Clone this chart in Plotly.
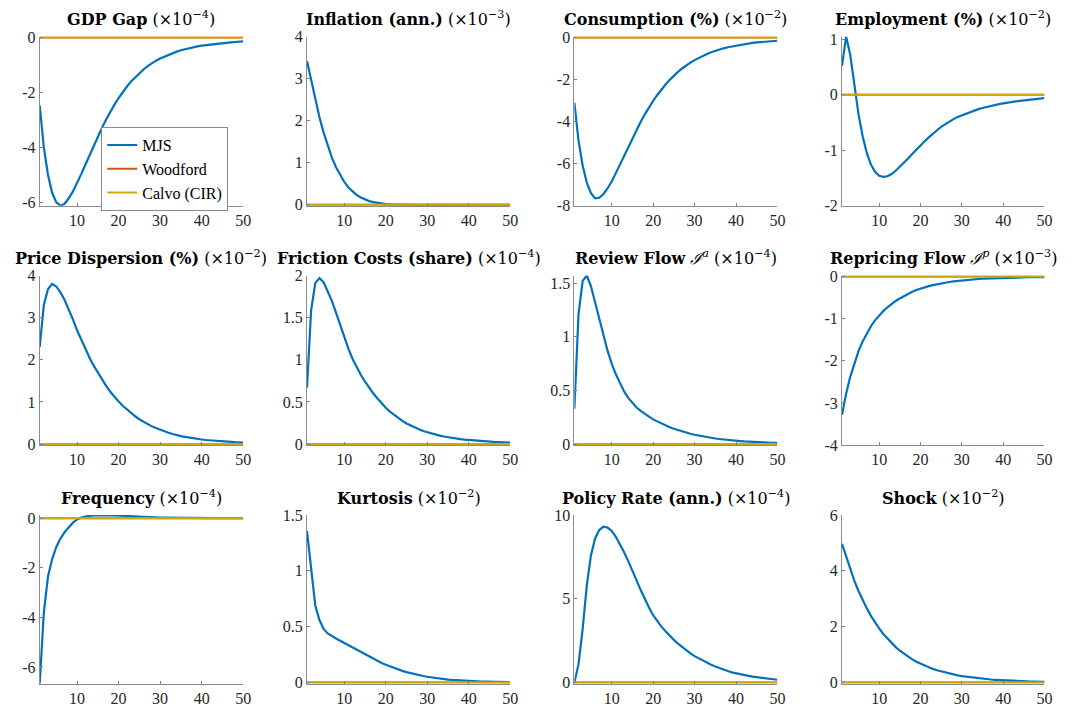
import plotly.graph_objects as go

periods = list(range(1, 51))

titles = [
    "<b>GDP Gap</b> (×10<sup>−4</sup>)",
    "<b>Inflation (ann.)</b> (×10<sup>−3</sup>)",
    "<b>Consumption (%)</b> (×10<sup>−2</sup>)",
    "<b>Employment (%)</b> (×10<sup>−2</sup>)",
    "<b>Price Dispersion (%)</b> (×10<sup>−2</sup>)",
    "<b>Friction Costs (share)</b> (×10<sup>−4</sup>)",
    "<b>Review Flow</b> <i>ℐ</i><sup><i>a</i></sup> (×10<sup>−4</sup>)",
    "<b>Repricing Flow</b> <i>ℐ</i><sup><i>p</i></sup> (×10<sup>−3</sup>)",
    "<b>Frequency</b> (×10<sup>−4</sup>)",
    "<b>Kurtosis</b> (×10<sup>−2</sup>)",
    "<b>Policy Rate (ann.)</b> (×10<sup>−4</sup>)",
    "<b>Shock</b> (×10<sup>−2</sup>)",
]

gdp_gap = [-2.47, -4.0, -5.0, -5.65, -6.0, -6.12, -6.05, -5.85, -5.6, -5.3,
           -4.97, -4.63, -4.28, -3.94, -3.6, -3.28, -2.98, -2.7, -2.44, -2.2,
           -1.98, -1.78, -1.6, -1.44, -1.29, -1.16, -1.04, -0.93, -0.84, -0.76,
           -0.69, -0.62, -0.56, -0.51, -0.46, -0.42, -0.38, -0.35, -0.32, -0.29,
           -0.27, -0.25, -0.23, -0.21, -0.19, -0.18, -0.17, -0.16, -0.15, -0.14]
inflation = [3.42, 2.95, 2.5, 2.08, 1.72, 1.4, 1.12, 0.89, 0.7, 0.54,
             0.41, 0.31, 0.23, 0.17, 0.12, 0.085, 0.06, 0.04, 0.025, 0.015,
             0.008, 0.003, 0.0, -0.002, -0.004, -0.005, -0.006, -0.006, -0.006, -0.006,
             -0.006, -0.005, -0.005, -0.005, -0.004, -0.004, -0.004, -0.003, -0.003, -0.003,
             -0.002, -0.002, -0.002, -0.002, -0.001, -0.001, -0.001, -0.001, -0.001, -0.001]
consumption = [-3.1, -4.9, -6.1, -6.9, -7.4, -7.65, -7.62, -7.45, -7.18, -6.85,
               -6.45, -6.03, -5.6, -5.18, -4.77, -4.38, -4.0, -3.65, -3.32, -3.01,
               -2.73, -2.47, -2.23, -2.01, -1.81, -1.63, -1.47, -1.32, -1.19, -1.07,
               -0.96, -0.86, -0.78, -0.7, -0.63, -0.57, -0.51, -0.46, -0.42, -0.38,
               -0.34, -0.31, -0.28, -0.25, -0.23, -0.21, -0.19, -0.17, -0.16, -0.15]
employment = [0.52, 1.047, 0.72, 0.15, -0.35, -0.75, -1.05, -1.26, -1.39, -1.46,
              -1.48, -1.47, -1.43, -1.37, -1.3, -1.23, -1.15, -1.07, -0.99, -0.91,
              -0.84, -0.77, -0.7, -0.64, -0.58, -0.53, -0.48, -0.44, -0.4, -0.37,
              -0.34, -0.31, -0.28, -0.26, -0.24, -0.22, -0.2, -0.185, -0.17, -0.155,
              -0.14, -0.13, -0.12, -0.11, -0.1, -0.09, -0.085, -0.075, -0.07, -0.06]
price_dispersion = [2.3, 3.3, 3.68, 3.8, 3.74, 3.6, 3.42, 3.2, 2.96, 2.7,
                    2.47, 2.25, 2.05, 1.86, 1.69, 1.53, 1.38, 1.24, 1.12, 1.01,
                    0.91, 0.82, 0.73, 0.66, 0.59, 0.53, 0.47, 0.42, 0.38, 0.34,
                    0.3, 0.27, 0.24, 0.21, 0.19, 0.17, 0.15, 0.135, 0.12, 0.108,
                    0.097, 0.087, 0.078, 0.07, 0.063, 0.056, 0.05, 0.045, 0.04, 0.036]
friction_costs = [0.67, 1.59, 1.91, 1.97, 1.92, 1.82, 1.7, 1.56, 1.41, 1.26,
                  1.13, 1.01, 0.91, 0.82, 0.74, 0.665, 0.6, 0.54, 0.48, 0.43,
                  0.385, 0.345, 0.31, 0.275, 0.245, 0.22, 0.195, 0.175, 0.155, 0.14,
                  0.125, 0.11, 0.1, 0.09, 0.08, 0.072, 0.065, 0.058, 0.052, 0.047,
                  0.042, 0.038, 0.034, 0.031, 0.028, 0.025, 0.023, 0.021, 0.019, 0.017]
review_flow = [0.33, 1.21, 1.52, 1.57, 1.47, 1.32, 1.16, 1.01, 0.87, 0.75,
               0.65, 0.57, 0.49, 0.43, 0.38, 0.34, 0.31, 0.28, 0.255, 0.23,
               0.21, 0.19, 0.172, 0.156, 0.142, 0.129, 0.117, 0.106, 0.096, 0.087,
               0.079, 0.071, 0.064, 0.058, 0.052, 0.047, 0.042, 0.038, 0.034, 0.031,
               0.028, 0.025, 0.022, 0.02, 0.018, 0.016, 0.014, 0.013, 0.012, 0.011]
repricing_flow = [-3.28, -2.78, -2.38, -2.05, -1.77, -1.54, -1.35, -1.18, -1.04, -0.92,
                  -0.82, -0.73, -0.65, -0.58, -0.52, -0.46, -0.41, -0.36, -0.32, -0.285,
                  -0.255, -0.227, -0.203, -0.181, -0.162, -0.145, -0.13, -0.116, -0.104, -0.093,
                  -0.083, -0.074, -0.066, -0.059, -0.053, -0.048, -0.043, -0.039, -0.035, -0.032,
                  -0.029, -0.026, -0.024, -0.022, -0.02, -0.018, -0.017, -0.016, -0.015, -0.014]
frequency = [-6.67, -3.8, -2.35, -1.65, -1.16, -0.82, -0.56, -0.35, -0.18, -0.05,
             0.03, 0.07, 0.1, 0.115, 0.12, 0.125, 0.123, 0.118, 0.11, 0.1,
             0.09, 0.082, 0.074, 0.066, 0.058, 0.051, 0.045, 0.039, 0.034, 0.029,
             0.025, 0.021, 0.018, 0.015, 0.012, 0.01, 0.008, 0.006, 0.005, 0.004,
             0.003, 0.003, 0.002, 0.002, 0.001, 0.001, 0.001, 0.0, 0.0, 0.0]
kurtosis = [1.355, 1.0, 0.69, 0.56, 0.48, 0.44, 0.415, 0.395, 0.375, 0.355,
            0.335, 0.315, 0.295, 0.273, 0.252, 0.232, 0.212, 0.193, 0.176, 0.16,
            0.145, 0.13, 0.117, 0.105, 0.094, 0.084, 0.075, 0.066, 0.059, 0.052,
            0.046, 0.04, 0.036, 0.031, 0.027, 0.024, 0.021, 0.018, 0.016, 0.014,
            0.012, 0.011, 0.0095, 0.0085, 0.0075, 0.0066, 0.006, 0.0055, 0.005, 0.0045]
policy_rate = [0.0, 1.1, 3.2, 5.8, 7.6, 8.6, 9.1, 9.3, 9.25, 9.05,
               8.7, 8.27, 7.78, 7.25, 6.72, 6.1, 5.52, 4.98, 4.48, 4.02,
               3.66, 3.34, 3.06, 2.79, 2.55, 2.32, 2.11, 1.91, 1.74, 1.58,
               1.44, 1.3, 1.18, 1.06, 0.96, 0.86, 0.77, 0.69, 0.61, 0.55,
               0.49, 0.44, 0.4, 0.36, 0.32, 0.28, 0.25, 0.22, 0.2, 0.17]
shock = [4.97, 4.5, 4.05, 3.64, 3.28, 2.95, 2.66, 2.39, 2.15, 1.94,
         1.74, 1.57, 1.41, 1.27, 1.14, 1.03, 0.93, 0.83, 0.75, 0.68,
         0.61, 0.55, 0.49, 0.44, 0.4, 0.36, 0.32, 0.29, 0.26, 0.23,
         0.21, 0.19, 0.17, 0.15, 0.14, 0.12, 0.11, 0.1, 0.09, 0.08,
         0.07, 0.065, 0.058, 0.052, 0.047, 0.042, 0.038, 0.034, 0.031, 0.028]

mjs_series = [gdp_gap, inflation, consumption, employment,
              price_dispersion, friction_costs, review_flow, repricing_flow,
              frequency, kurtosis, policy_rate, shock]
woodford_series = [[0.0] * 50 for _ in range(12)]
calvo_series = [[0.0] * 50 for _ in range(12)]

y_ranges = [(-6.12, 0), (0, 4), (-8, 0), (-2, 1.047),
            (0, 4), (0, 2), (0, 1.57), (-4, 0),
            (-6.67, 0.13), (0, 1.5), (0, 10), (0, 6)]
y_ticks = [[-6, -4, -2, 0], [0, 1, 2, 3, 4], [-8, -6, -4, -2, 0], [-2, -1, 0, 1],
           [0, 1, 2, 3, 4], [0, 0.5, 1, 1.5, 2], [0, 0.5, 1, 1.5], [-4, -3, -2, -1, 0],
           [-6, -4, -2, 0], [0, 0.5, 1, 1.5], [0, 5, 10], [0, 2, 4, 6]]
x_ticks = [10, 20, 30, 40, 50]

series_names = ["MJS", "Woodford", "Calvo (CIR)"]
colors = ["#0072BD", "#D95319", "#CFA80A"]

W, H = 1073, 717
col_px = [(40, 245), (309.3, 514), (578.7, 783.3), (848.3, 1052.3)]
row_px = [(29.3, 202.5), (274, 447.7), (519.3, 692)]

FONT = "Liberation Serif"
TFONT = "DejaVu Serif"
fig = go.Figure()

for i in range(12):
    r, c = divmod(i, 4)
    ax = i + 1
    xa = "x" if ax == 1 else f"x{ax}"
    ya = "y" if ax == 1 else f"y{ax}"
    for k, data in enumerate([mjs_series[i], woodford_series[i], calvo_series[i]]):
        fig.add_trace(go.Scatter(
            x=periods, y=data, mode="lines", name=series_names[k],
            line=dict(color=colors[k], width=2.2 if k == 0 else 2),
            showlegend=(i == 0), xaxis=xa, yaxis=ya, hoverinfo="skip"))
    x0, x1 = col_px[c]
    y0, y1 = row_px[r]
    lo, hi = y_ranges[i]
    pad = (hi - lo) * 0.006
    fig.layout[f"xaxis{'' if ax == 1 else ax}"] = dict(
        domain=[x0 / W, x1 / W], range=[1, 50], anchor=ya,
        tickvals=x_ticks, ticktext=[str(t) for t in x_ticks],
        ticks="inside", ticklen=3, tickcolor="#808080",
        showline=True, linecolor="#8c8c8c", linewidth=1,
        showgrid=False, zeroline=False,
        tickfont=dict(family=FONT, size=16, color="#262626"))
    fig.layout[f"yaxis{'' if ax == 1 else ax}"] = dict(
        domain=[1 - y1 / H, 1 - y0 / H],
        range=[lo - (pad if lo == 0 else 0), hi + (pad if hi == 0 else 0)],
        anchor=xa,
        tickvals=y_ticks[i], ticktext=[f"{t:g}" for t in y_ticks[i]],
        ticks="inside", ticklen=3, tickcolor="#808080",
        showline=True, linecolor="#8c8c8c", linewidth=1,
        showgrid=False, zeroline=False,
        tickfont=dict(family=FONT, size=16, color="#262626"))
    fig.add_annotation(
        text=titles[i], xref="paper", yref="paper",
        x=(x0 + x1) / 2 / W, y=1 - (y0 - 5.5) / H,
        xanchor="center", yanchor="bottom", showarrow=False,
        font=dict(family=TFONT, size=16, color="#000000"))

fig.update_layout(
    width=W, height=H, margin=dict(l=0, r=0, t=0, b=0),
    paper_bgcolor="white", plot_bgcolor="white",
    showlegend=True,
    legend=dict(x=102 / W, y=1 - 122 / H, xanchor="left", yanchor="top",
                bgcolor="white", bordercolor="#8a8a8a", borderwidth=1,
                font=dict(family=FONT, size=16, color="#000000"),
                tracegroupgap=0, itemwidth=30),
)

fig.write_html("out.html")
